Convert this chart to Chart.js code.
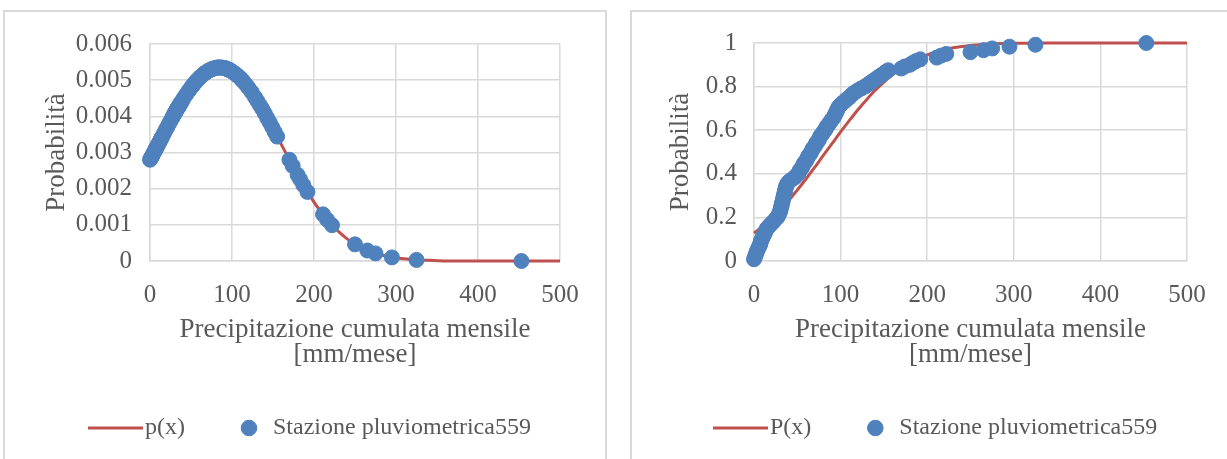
<!DOCTYPE html>
<html>
<head>
<meta charset="utf-8">
<script src="https://cdn.jsdelivr.net/npm/chart.js@4.4.1/dist/chart.umd.min.js"></script>
<style>
  body { margin: 0; background: #fff; width: 1227px; height: 459px; overflow: hidden; position: relative; }
  .frame { position: absolute; top: 10px; height: 470px; border: 2px solid #d9d9d9; box-sizing: border-box; }
  canvas { position: absolute; top: 11px; }
</style>
</head>
<body>
<div class="frame" style="left:3px; width:604px"></div>
<div class="frame" style="left:630px; width:620px"></div>
<canvas id="pdf" width="603" height="448" style="left:3px; width:603px; height:448px"></canvas>
<canvas id="cdf" width="596" height="448" style="left:631px; width:596px; height:448px"></canvas>

<script>
// observed monthly totals (mm/mese), sorted
stazioneX = [0, 1, 1.5, 2.5, 3, 4, 5, 6, 7, 7.5,
    8, 9, 10, 11, 12, 13, 14, 15, 17, 19,
    21, 23, 25, 27, 28, 29, 30, 30.5, 31, 31.5,
    32, 32.5, 33, 33.5, 34, 34.5, 35, 35.5, 36, 36.5,
    37, 38, 39, 41, 44, 47, 49, 51, 52, 53,
    55, 56, 57, 58, 60, 61, 62, 63, 65, 66,
    67, 68, 70, 71, 72, 74, 75, 76, 77, 79,
    80, 82, 83, 84, 86, 87, 89, 90, 92, 93,
    94, 95, 96, 97, 98, 100, 102, 105, 107, 110,
    112, 114, 117, 120, 124, 128, 131, 134, 137, 140,
    143, 146, 149, 152, 155, 170, 174, 180, 183, 187,
    192, 211, 216, 222, 250, 265, 275, 295, 325, 453]

// left chart: density at each observation
stazionePdf = [0.00280, 0.00284, 0.00286, 0.00290, 0.00292, 0.00297, 0.00301, 0.00305, 0.00310, 0.00312,
    0.00314, 0.00318, 0.00323, 0.00327, 0.00331, 0.00336, 0.00340, 0.00344, 0.00353, 0.00362,
    0.00370, 0.00379, 0.00387, 0.00395, 0.00400, 0.00404, 0.00408, 0.00410, 0.00412, 0.00414,
    0.00416, 0.00418, 0.00420, 0.00422, 0.00424, 0.00425, 0.00427, 0.00429, 0.00431, 0.00433,
    0.00435, 0.00439, 0.00442, 0.00450, 0.00460, 0.00470, 0.00476, 0.00482, 0.00485, 0.00488,
    0.00493, 0.00496, 0.00499, 0.00501, 0.00506, 0.00508, 0.00510, 0.00512, 0.00516, 0.00518,
    0.00520, 0.00521, 0.00524, 0.00526, 0.00527, 0.00529, 0.00530, 0.00531, 0.00532, 0.00533,
    0.00534, 0.00535, 0.00535, 0.00535, 0.00535, 0.00535, 0.00534, 0.00534, 0.00533, 0.00532,
    0.00531, 0.00530, 0.00529, 0.00528, 0.00527, 0.00524, 0.00521, 0.00516, 0.00512, 0.00506,
    0.00501, 0.00496, 0.00488, 0.00479, 0.00467, 0.00453, 0.00442, 0.00431, 0.00420, 0.00408,
    0.00395, 0.00383, 0.00370, 0.00357, 0.00344, 0.00280, 0.00263, 0.00238, 0.00226, 0.00210,
    0.00191, 0.00129, 0.00114, 0.00099, 0.00046, 0.00029, 0.00021, 0.00010, 0.00003, 0.00000]

// right chart: empirical cumulative frequency
stazioneCdf = [0.008, 0.017, 0.025, 0.033, 0.042, 0.050, 0.058, 0.067, 0.075, 0.083,
    0.092, 0.100, 0.108, 0.117, 0.125, 0.133, 0.142, 0.150, 0.158, 0.167,
    0.175, 0.183, 0.192, 0.200, 0.208, 0.217, 0.225, 0.233, 0.242, 0.250,
    0.258, 0.267, 0.275, 0.283, 0.292, 0.300, 0.308, 0.317, 0.325, 0.333,
    0.342, 0.350, 0.358, 0.367, 0.375, 0.383, 0.392, 0.400, 0.408, 0.417,
    0.425, 0.433, 0.442, 0.450, 0.458, 0.467, 0.475, 0.483, 0.492, 0.500,
    0.508, 0.517, 0.525, 0.533, 0.542, 0.550, 0.558, 0.567, 0.575, 0.583,
    0.592, 0.600, 0.608, 0.617, 0.625, 0.633, 0.642, 0.650, 0.658, 0.667,
    0.675, 0.683, 0.692, 0.700, 0.708, 0.717, 0.725, 0.733, 0.742, 0.750,
    0.758, 0.767, 0.775, 0.783, 0.792, 0.800, 0.808, 0.817, 0.825, 0.833,
    0.842, 0.850, 0.858, 0.867, 0.875, 0.883, 0.892, 0.900, 0.908, 0.917,
    0.925, 0.933, 0.942, 0.950, 0.958, 0.967, 0.975, 0.983, 0.992, 1.000]

// fitted curves, read every 10 mm
curveX = [0, 10, 20, 30, 40, 50, 60, 70, 80, 90,
    100, 110, 120, 130, 140, 150, 160, 170, 180, 190,
    200, 210, 220, 230, 240, 250, 260, 270, 280, 290,
    300, 310, 320, 330, 340, 350, 360, 370, 380, 390,
    400, 410, 420, 430, 440, 450, 460, 470, 480, 490, 500]
pdfY = [0.00280, 0.00323, 0.00366, 0.00408, 0.00446, 0.00479, 0.00506, 0.00524, 0.00534, 0.00534,
    0.00524, 0.00506, 0.00479, 0.00446, 0.00408, 0.00366, 0.00323, 0.00280, 0.00238, 0.00199,
    0.00163, 0.00131, 0.00104, 0.00081, 0.00062, 0.00046, 0.00034, 0.00025, 0.00018, 0.00012,
    0.00008, 0.00006, 0.00004, 0.00002, 0.00002, 0.00001, 0, 0, 0, 0,
    0, 0, 0, 0, 0, 0, 0, 0, 0, 0, 0]
cdfY = [0.128, 0.159, 0.194, 0.234, 0.278, 0.326, 0.376, 0.429, 0.484, 0.538,
    0.592, 0.644, 0.694, 0.740, 0.783, 0.821, 0.854, 0.883, 0.908, 0.929,
    0.945, 0.959, 0.970, 0.978, 0.984, 0.989, 0.992, 0.995, 0.997, 0.998,
    0.999, 0.999, 0.999, 1, 1, 1, 1, 1, 1, 1,
    1, 1, 1, 1, 1, 1, 1, 1, 1, 1, 1]

// tick labels
xTicks = [0, 100, 200, 300, 400, 500]
pdfTicks = [0, 0.001, 0.002, 0.003, 0.004, 0.005, 0.006]
pdfLabels = ['0', '0.001', '0.002', '0.003', '0.004', '0.005', '0.006']
cdfTicks = [0, 0.2, 0.4, 0.6, 0.8, 1]
cdfLabels = ['0', '0.2', '0.4', '0.6', '0.8', '1']

Chart.defaults.font.family = "'Liberation Serif', 'Times New Roman', serif"
Chart.defaults.color = '#595959'

// legend symbol for the curve: a short red line
const legendLine = document.createElement('canvas')
legendLine.width = 66
legendLine.height = 6
const lctx = legendLine.getContext('2d')
lctx.strokeStyle = '#c0504d'
lctx.lineWidth = 3
lctx.beginPath()
lctx.moveTo(0, 3)
lctx.lineTo(55, 3)
lctx.stroke()

// centre of legend is not where excel puts it, so slide it to a given start x
const legendPlace = {
    id: 'legendPlace',
    afterLayout(chart, args, opts) {
        const lg = chart.legend
        if (!lg || !lg.lineWidths) return
        const pad = lg.options.labels.padding
        const startX = (lg.left + pad + lg.right - lg.lineWidths[0]) / 2
        const dx = opts.x - startX
        lg.left += dx
        lg.right += dx
    }
}

function makeChart(id, cfg) {
    const ctx = document.getElementById(id).getContext('2d')
    return new Chart(ctx, {
        type: 'scatter',
        data: {
            datasets: [{
                label: 'Stazione pluviometrica559',
                data: stazioneX.map((x, i) => ({ x: x, y: cfg.points[i] })),
                showLine: false,
                pointRadius: 7.5,
                pointHoverRadius: 7.5,
                pointBackgroundColor: '#4f81bd',
                pointBorderColor: '#4f81bd',
                pointBorderWidth: 1,
                clip: false
            },
            {
                label: cfg.curveLabel,
                data: curveX.map((x, i) => ({ x: x, y: cfg.curve[i] })),
                showLine: true,
                borderColor: '#c0504d',
                borderWidth: 3,
                pointRadius: 0,
                pointHoverRadius: 0,
                pointStyle: legendLine,
                pointBorderColor: '#c0504d',
                cubicInterpolationMode: 'monotone',
                clip: false
            }]
        },
        plugins: [legendPlace],
        options: {
            responsive: false,
            animation: false,
            layout: {
                padding: { top: 29, right: cfg.padRight, bottom: 9, left: 0 }
            },
            scales: {
                x: {
                    type: 'linear',
                    min: 0,
                    max: 500,
                    afterBuildTicks: s => { s.ticks = xTicks.map(v => ({ value: v })) },
                    afterFit: s => { s.height = 103 },
                    ticks: {
                        font: { size: 25 },
                        padding: 19,
                        callback: v => String(v)
                    },
                    grid: { color: '#d9d9d9', lineWidth: 1.5, drawTicks: false },
                    border: { color: '#d9d9d9', width: 1.5 },
                    title: {
                        display: true,
                        text: ['Precipitazione cumulata mensile', '[mm/mese]'],
                        font: { size: 27, lineHeight: '25px' },
                        padding: { top: 0, bottom: -3.5 }
                    }
                },
                y: {
                    type: 'linear',
                    min: 0,
                    max: cfg.yMax,
                    afterBuildTicks: s => { s.ticks = cfg.yTicks.map(v => ({ value: v })) },
                    afterFit: s => { s.width = cfg.yWidth },
                    ticks: {
                        font: { size: 25 },
                        padding: cfg.yTickPad,
                        callback: (v, i) => cfg.yLabels[i]
                    },
                    grid: { color: '#d9d9d9', lineWidth: 1.5, drawTicks: false },
                    border: { color: '#d9d9d9', width: 1.5 },
                    title: {
                        display: true,
                        text: 'Probabilità',
                        font: { size: 27, lineHeight: '25px' },
                        padding: { top: cfg.yTitlePad, bottom: 0 }
                    }
                }
            },
            plugins: {
                tooltip: { enabled: false },
                legendPlace: { x: cfg.legendX },
                legend: {
                    position: 'bottom',
                    labels: {
                        usePointStyle: true,
                        boxHeight: 11,
                        padding: 52,
                        font: { size: 24 },
                        color: '#595959',
                        sort: (a, b) => b.datasetIndex - a.datasetIndex
                    }
                }
            }
        }
    })
}

// p(x) graph
makeChart('pdf', {
    points: stazionePdf,
    curve: pdfY,
    curveLabel: 'p(x)',
    yMax: 0.006,
    yTicks: pdfTicks,
    yLabels: pdfLabels,
    yWidth: 147,
    yTickPad: 18,
    yTitlePad: 41,
    padRight: 46,
    legendX: 106
})

// P(x) graph
makeChart('cdf', {
    points: stazioneCdf,
    curve: cdfY,
    curveLabel: 'P(x)',
    yMax: 1,
    yTicks: cdfTicks,
    yLabels: cdfLabels,
    yWidth: 123,
    yTickPad: 17,
    yTitlePad: 37,
    padRight: 40,
    legendX: 103
})
</script>
</body>
</html>
